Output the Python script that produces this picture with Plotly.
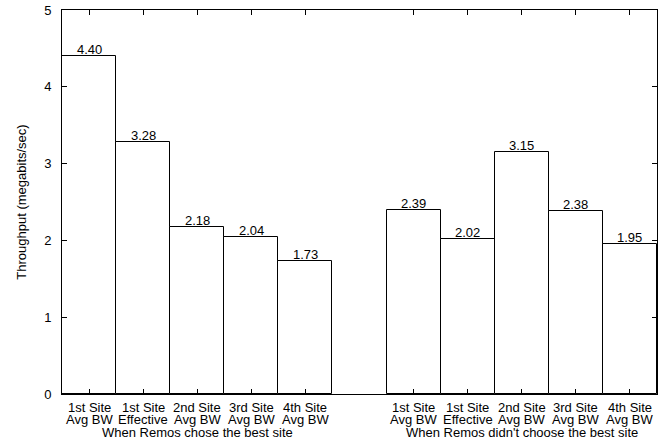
import plotly.graph_objects as go

# ---- data ----
group_names = ["When Remos chose the best site", "When Remos didn't choose the best site"]
bar_line1 = ["1st Site", "1st Site", "2nd Site", "3rd Site", "4th Site"]
bar_line2 = ["Avg BW", "Effective", "Avg BW", "Avg BW", "Avg BW"]
values_best = [4.40, 3.28, 2.18, 2.04, 1.73]
values_not_best = [2.39, 2.02, 3.15, 2.38, 1.95]
y_title = "Throughput (megabits/sec)"

FONT = "Liberation Sans, Arial, Helvetica, sans-serif"
FS = 13

# positions: group 1 at 0..4, empty slot, group 2 at 6..10
groups = [values_best, values_not_best]
xs, ys, l1, l2 = [], [], [], []
for gi, vals in enumerate(groups):
    for i, v in enumerate(vals):
        xs.append(gi * (len(vals) + 1) + i)
        ys.append(v)
        l1.append(bar_line1[i])
        l2.append(bar_line2[i])

fig = go.Figure()
fig.add_trace(go.Bar(
    x=xs, y=ys, width=1,
    marker=dict(color="white", line=dict(color="black", width=1)),
    hoverinfo="skip",
))

font = dict(family=FONT, size=FS, color="black")
annotations = []
for x, y in zip(xs, ys):
    annotations.append(dict(x=x, y=y, xref="x", yref="y", text=f"{y:.2f}",
                            showarrow=False, yanchor="bottom", yshift=-3, font=font))
row_common = dict(xref="x", yref="paper", y=0, showarrow=False, yanchor="middle",
                  borderpad=0, font=font)
for x, a, b in zip(xs, l1, l2):
    annotations.append(dict(x=x, text=a, yshift=-13, **row_common))
    annotations.append(dict(x=x, text=b, yshift=-25.5, **row_common))
for gi, name in enumerate(group_names):
    n = len(groups[gi])
    cx = gi * (n + 1) + (n - 1) / 2
    annotations.append(dict(x=cx, text=name, yshift=-38, **row_common))

fig.update_layout(
    width=661, height=443,
    margin=dict(l=62, r=4, t=10, b=49),
    paper_bgcolor="white", plot_bgcolor="white",
    showlegend=False,
    font=font,
    bargap=0,
    annotations=annotations,
    xaxis=dict(range=[-0.5, 10.5], tickvals=xs, ticktext=[""] * len(xs),
               ticks="inside", ticklen=5, tickcolor="black", tickwidth=1,
               showline=True, linecolor="black", linewidth=1, mirror="ticks",
               showgrid=False, zeroline=False, fixedrange=True),
    yaxis=dict(range=[0, 5], tickvals=[0, 1, 2, 3, 4, 5],
               ticks="inside", ticklen=5, tickcolor="black", tickwidth=1,
               showline=True, linecolor="black", linewidth=1, mirror="ticks",
               showgrid=False, zeroline=False, ticklabelstandoff=7,
               tickfont=font,
               title=dict(text=y_title, standoff=14, font=font)),
)

fig.write_html("out.html", config={"displayModeBar": False},
               post_script="document.body.style.margin='0px';document.body.style.overflow='hidden';")
